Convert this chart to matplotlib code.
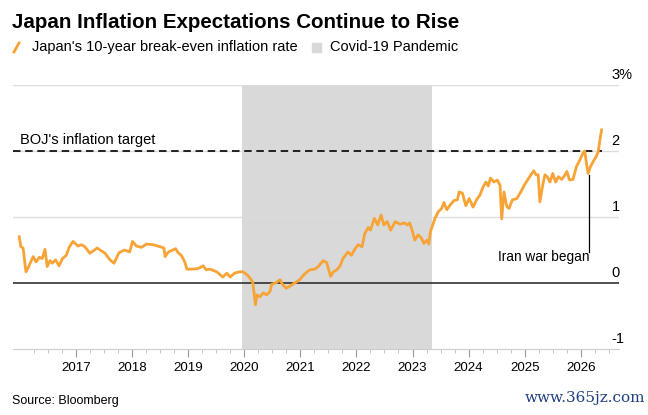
import matplotlib
matplotlib.use('Agg')
import matplotlib.pyplot as plt
from matplotlib.lines import Line2D
from matplotlib.patches import Rectangle

plt.rcParams['font.family'] = ['Liberation Sans Narrow', 'Liberation Sans', 'DejaVu Sans']

# Japan 10-year break-even inflation rate, decimal years vs percent
years = [2015.99, 2016.02, 2016.06, 2016.11, 2016.15, 2016.19, 2016.24, 2016.29, 2016.35, 2016.40,
         2016.45, 2016.49, 2016.54, 2016.58, 2016.64, 2016.70, 2016.76, 2016.83, 2016.88, 2016.95,
         2017.04, 2017.10, 2017.16, 2017.25, 2017.38, 2017.52, 2017.61, 2017.68, 2017.77, 2017.87,
         2017.96, 2018.01, 2018.08, 2018.17, 2018.26, 2018.38, 2018.50, 2018.57, 2018.59, 2018.65,
         2018.73, 2018.78, 2018.82, 2018.88, 2018.94, 2018.98, 2019.09, 2019.18, 2019.27, 2019.32,
         2019.39, 2019.51, 2019.62, 2019.69, 2019.75, 2019.83, 2019.92, 2019.98, 2020.07, 2020.15,
         2020.17, 2020.20, 2020.23, 2020.28, 2020.34, 2020.40, 2020.46, 2020.49, 2020.56, 2020.64,
         2020.69, 2020.75, 2020.81, 2020.90, 2020.99, 2021.08, 2021.17, 2021.26, 2021.32, 2021.41,
         2021.47, 2021.54, 2021.59, 2021.65, 2021.71, 2021.76, 2021.85, 2021.91, 2021.97, 2022.03,
         2022.10, 2022.15, 2022.21, 2022.25, 2022.32, 2022.38, 2022.44, 2022.49, 2022.55, 2022.61,
         2022.69, 2022.78, 2022.85, 2022.91, 2022.95, 2023.00, 2023.04, 2023.10, 2023.16, 2023.20,
         2023.26, 2023.29, 2023.32, 2023.40, 2023.46, 2023.52, 2023.56, 2023.61, 2023.67, 2023.74,
         2023.80, 2023.83, 2023.89, 2023.95, 2024.01, 2024.08, 2024.14, 2024.20, 2024.26, 2024.31,
         2024.35, 2024.39, 2024.45, 2024.51, 2024.56, 2024.59, 2024.63, 2024.68, 2024.72, 2024.78,
         2024.86, 2024.93, 2024.99, 2025.05, 2025.11, 2025.16, 2025.20, 2025.24, 2025.27, 2025.32,
         2025.36, 2025.40, 2025.45, 2025.50, 2025.55, 2025.60, 2025.66, 2025.72, 2025.75, 2025.80,
         2025.86, 2025.92, 2025.98, 2026.04, 2026.07, 2026.10, 2026.13, 2026.17, 2026.22, 2026.27,
         2026.31, 2026.34, 2026.37]
rate = [0.70, 0.55, 0.53, 0.17, 0.23, 0.31, 0.40, 0.32, 0.39, 0.37,
        0.51, 0.25, 0.34, 0.30, 0.35, 0.26, 0.37, 0.42, 0.54, 0.63,
        0.56, 0.58, 0.55, 0.45, 0.53, 0.45, 0.35, 0.30, 0.46, 0.50,
        0.47, 0.63, 0.56, 0.54, 0.59, 0.58, 0.55, 0.53, 0.40, 0.47,
        0.50, 0.52, 0.46, 0.42, 0.32, 0.21, 0.21, 0.22, 0.26, 0.20,
        0.21, 0.17, 0.09, 0.15, 0.09, 0.15, 0.17, 0.17, 0.11, 0.02,
        -0.11, -0.33, -0.18, -0.21, -0.15, -0.18, -0.13, -0.02, 0.00, 0.05,
        -0.03, -0.08, -0.05, 0.00, 0.05, 0.14, 0.20, 0.21, 0.25, 0.34,
        0.31, 0.10, 0.17, 0.20, 0.26, 0.37, 0.47, 0.42, 0.51, 0.58,
        0.55, 0.75, 0.84, 0.80, 0.98, 0.88, 1.03, 0.88, 0.93, 0.80,
        0.93, 0.89, 0.91, 0.88, 0.91, 0.78, 0.65, 0.73, 0.68, 0.60,
        0.65, 0.59, 0.78, 0.98, 1.08, 1.13, 1.22, 1.11, 1.18, 1.25,
        1.26, 1.38, 1.36, 1.17, 1.28, 1.15, 1.26, 1.33, 1.46, 1.53,
        1.47, 1.59, 1.53, 1.56, 1.48, 0.97, 1.38, 1.16, 1.13, 1.26,
        1.28, 1.38, 1.48, 1.56, 1.64, 1.70, 1.64, 1.64, 1.23, 1.48,
        1.64, 1.61, 1.53, 1.66, 1.53, 1.61, 1.57, 1.64, 1.69, 1.56,
        1.57, 1.76, 1.86, 1.97, 2.00, 1.81, 1.66, 1.76, 1.84, 1.91,
        1.99, 2.17, 2.32]

covid_start, covid_end = 2019.96, 2023.35
boj_target = 2.0
iran_war = 2026.145
year_ticks = list(range(2017, 2027))
y_ticks = [3, 2, 1, 0, -1]
y_labels = ['3%', '2', '1', '0', '-1']

orange = '#f7a336'
x0, x1 = 2015.88, 2026.68
fig = plt.figure(figsize=(6.48, 4.15), dpi=100)
ax = fig.add_axes([13 / 648, 66 / 415, 606 / 648, 264 / 415])
ax.set_xlim(x0, x1)
ax.set_ylim(-1, 3)

ax.axvspan(covid_start, covid_end, color='#d9d9d9', lw=0, zorder=0)
for v in [3, 2, 1]:
    ax.axhline(v, color='#dcdcdc', lw=1, zorder=1)
ax.axhline(0, color='#222222', lw=1.1, zorder=2)

ax.plot(years, rate, color=orange, lw=2.0, zorder=4, solid_joinstyle='round')
ax.plot([x0, years[-1]], [boj_target, boj_target], color='black', lw=1.2,
        dashes=(4.5, 2.8), zorder=3)
ax.text(2016.0, boj_target + 0.06, "BOJ's inflation target", fontsize=10.5,
        ha='left', va='bottom')

ax.plot([iran_war, iran_war], [1.64, 0.47], color='black', lw=0.9, zorder=5)
ax.text(iran_war + 0.01, 0.39, 'Iran war began', fontsize=9.8, ha='right', va='center')

for v, lab in zip(y_ticks, y_labels):
    ax.annotate(lab, xy=(0.988, v), xycoords=('axes fraction', 'data'),
                xytext=(0, 7.5), textcoords='offset points', fontsize=10.5,
                ha='left', va='center')

for s in ['top', 'left', 'right']:
    ax.spines[s].set_visible(False)
ax.spines['bottom'].set_color('#cccccc')
ax.spines['bottom'].set_position(('data', -1))
ax.set_yticks([])
ax.set_xticks(year_ticks)
ax.set_xticklabels([str(y) for y in year_ticks], fontsize=9.6)
minor = [y + q for y in range(2016, 2027) for q in (0.25, 0.5, 0.75) if y + q < x1]
ax.set_xticks(minor, minor=True)
ax.tick_params(axis='x', which='major', length=6, color='#999999', pad=3)
ax.tick_params(axis='x', which='minor', length=3, color='#bbbbbb')

fig.text(12 / 648, 1 - 22 / 415, 'Japan Inflation Expectations Continue to Rise',
         fontsize=14.8, fontweight='bold', ha='left', va='center')
fig.add_artist(Line2D([14 / 648, 19 / 648], [1 - 52 / 415, 1 - 43 / 415],
                      color=orange, lw=2, transform=fig.transFigure))
fig.text(32 / 648, 1 - 47 / 415, "Japan's 10-year break-even inflation rate",
         fontsize=10.5, ha='left', va='center')
fig.add_artist(Rectangle((312 / 648, 1 - 52 / 415), 9 / 648, 9 / 415,
                         color='#d9d9d9', transform=fig.transFigure))
fig.text(330 / 648, 1 - 47 / 415, 'Covid-19 Pandemic', fontsize=10.5,
         ha='left', va='center')
fig.text(12 / 648, 1 - 401 / 415, 'Source: Bloomberg', fontsize=9,
         ha='left', va='center')
fig.text(645 / 648, 1 - 398 / 415, 'www.365jz.com', fontsize=11, color='#1f3f7f',
         family='DejaVu Serif', ha='right', va='center')

fig.savefig('out.png', dpi=100)
